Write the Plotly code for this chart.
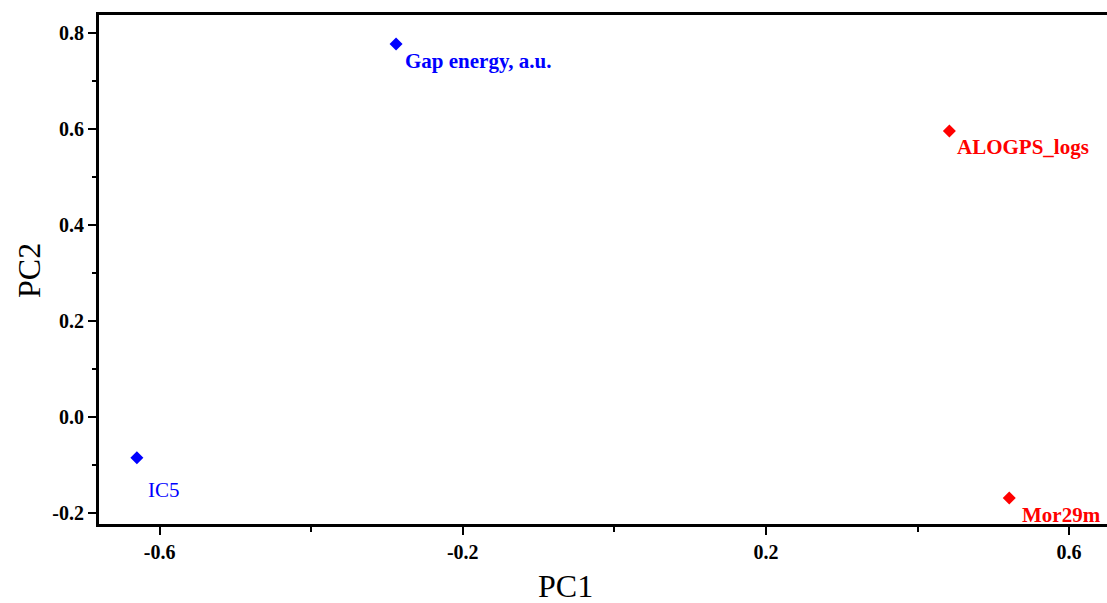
import plotly.graph_objects as go

names = ["Gap energy, a.u.", "ALOGPS_logs", "IC5", "Mor29m"]
pc1 = [-0.288, 0.442, -0.630, 0.521]
pc2 = [0.777, 0.596, -0.085, -0.169]
colors = ["#0000ff", "#ff0000", "#0000ff", "#ff0000"]
bold = [True, True, False, True]
label_dx = [7, 6, 9, 11]
label_dy = [-17, -16, -32, -17]

x_tickvals = [-0.6, -0.2, 0.2, 0.6]
x_ticktext = ["-0.6", "-0.2", "0.2", "0.6"]
y_tickvals = [-0.2, 0.0, 0.2, 0.4, 0.6, 0.8]
y_ticktext = ["-0.2", "0.0", "0.2", "0.4", "0.6", "0.8"]

serif = "Liberation Serif, Times New Roman, serif"

fig = go.Figure()
fig.add_trace(go.Scatter(
    x=pc1, y=pc2, mode="markers",
    marker=dict(symbol="diamond", size=10, color=colors),
    showlegend=False, hoverinfo="skip"))

for n, x, y, c, b, dx, dy in zip(names, pc1, pc2, colors, bold, label_dx, label_dy):
    txt = f"<b>{n}</b>" if b else n
    fig.add_annotation(x=x, y=y, text=txt, showarrow=False,
                       xanchor="left", yanchor="middle", xshift=dx, yshift=dy,
                       font=dict(family=serif, size=21, color=c))

fig.add_annotation(xref="paper", yref="paper", x=(565 - 99) / (1107 - 99), y=(524 - 586) / (524 - 15),
                   text="PC1", showarrow=False, xanchor="center", yanchor="middle",
                   font=dict(family=serif, size=32, color="black"))
fig.add_annotation(xref="paper", yref="paper", x=(29 - 99) / (1107 - 99), y=(524 - 271) / (524 - 15),
                   text="PC2", showarrow=False, xanchor="center", yanchor="middle", textangle=-90,
                   font=dict(family=serif, size=32, color="black"))

fig.update_layout(
    width=1107, height=603,
    margin=dict(l=99, r=0, t=15, b=79),
    paper_bgcolor="white", plot_bgcolor="white",
    xaxis=dict(range=[-0.680, 0.650], showgrid=False, zeroline=False,
               showline=True, linecolor="black", linewidth=3, mirror=True,
               ticks="outside", ticklen=8, tickwidth=2, tickcolor="black",
               tickvals=x_tickvals, ticktext=x_ticktext,
               tickfont=dict(family=serif, size=20, color="black", weight="bold"),
               minor=dict(ticks="outside", ticklen=5, tickwidth=2, tickcolor="black",
                          tick0=-0.6, dtick=0.2, showgrid=False)),
    yaxis=dict(range=[-0.223, 0.8375], showgrid=False, zeroline=False,
               showline=True, linecolor="black", linewidth=3,
               ticks="outside", ticklen=8, tickwidth=2, tickcolor="black",
               tickvals=y_tickvals, ticktext=y_ticktext,
               tickfont=dict(family=serif, size=20, color="black", weight="bold"),
               minor=dict(ticks="outside", ticklen=4, tickwidth=2, tickcolor="black",
                          tick0=0, dtick=0.1, showgrid=False)),
)

fig.write_html("out.html")
